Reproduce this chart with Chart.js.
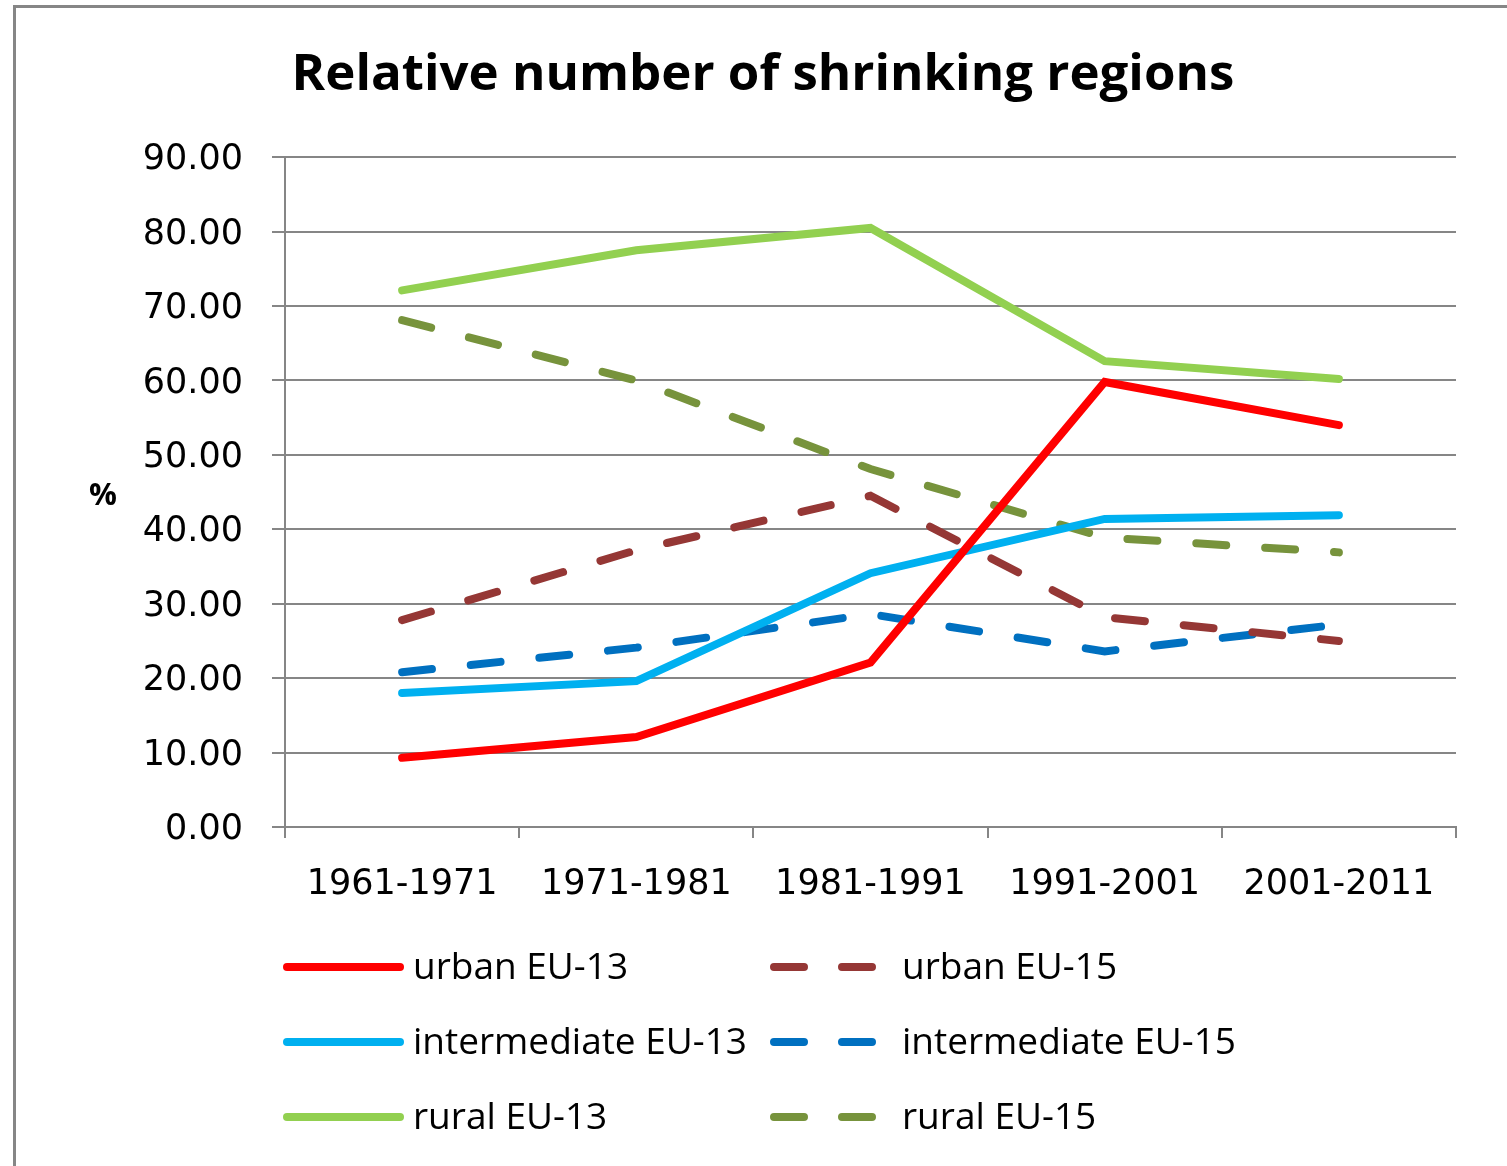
<!DOCTYPE html>
<html>
<head>
<meta charset="utf-8">
<script src="https://cdn.jsdelivr.net/npm/chart.js@4"></script>
<style>
  html, body { margin: 0; padding: 0; background: #ffffff; }
  #wrap { width: 1507px; height: 1166px; }
</style>
</head>
<body>
<div id="wrap"><canvas id="myLineChart" width="1507" height="1166"></canvas></div>
<script>
const periods = ["1961-1971", "1971-1981", "1981-1991", "1991-2001", "2001-2011"];
const yTicks = [0, 10, 20, 30, 40, 50, 60, 70, 80, 90];

const urbanEU13 = [9.3, 12.1, 22.1, 59.8, 54.0];
const intermediateEU13 = [18.0, 19.6, 34.1, 41.4, 41.9];
const ruralEU13 = [72.1, 77.5, 80.5, 62.6, 60.2];
const urbanEU15 = [27.8, 37.2, 44.5, 28.2, 25.0];
const intermediateEU15 = [20.8, 24.1, 28.6, 23.6, 27.2];
const ruralEU15 = [68.1, 60.0, 48.1, 38.9, 36.9];

const gridColor = "#868686";
const dash = [30, 39];

// frame round the whole chart and the horizontal "%" label
const framePlugin = {
  id: "frame",
  beforeDraw(chart) {
    const c = chart.ctx;
    c.save();
    c.fillStyle = "#ffffff";
    c.fillRect(0, 0, chart.width, chart.height);
    c.strokeStyle = gridColor;
    c.lineWidth = 3;
    c.strokeRect(14.5, 6.5, chart.width + 20, chart.height + 20);
    c.restore();
  },
  afterDraw(chart) {
    const c = chart.ctx;
    c.save();
    c.fillStyle = "#000000";
    c.font = "bold 31px 'Open Sans'";
    c.textAlign = "center";
    c.textBaseline = "middle";
    c.fillText("%", 103, 496);
    c.restore();
  },
};

// two-column legend below the chart
const legendPlugin = {
  id: "gridLegend",
  afterDraw(chart) {
    const c = chart.ctx;
    const cols = [{ x: 287, textX: 413 }, { x: 774, textX: 902 }];
    const rows = [967, 1042, 1117];
    c.save();
    chart.data.datasets.forEach((ds, i) => {
      const col = cols[i < 3 ? 0 : 1];
      const y = rows[i % 3];
      c.strokeStyle = ds.borderColor;
      c.lineWidth = 8;
      c.lineCap = "round";
      c.beginPath();
      if (ds.borderDash) {
        c.moveTo(col.x, y);
        c.lineTo(col.x + 30, y);
        c.moveTo(col.x + 68, y);
        c.lineTo(col.x + 98, y);
      } else {
        c.moveTo(col.x, y);
        c.lineTo(col.x + 113, y);
      }
      c.stroke();
      c.fillStyle = "#000000";
      c.font = "37px 'Open Sans'";
      c.textAlign = "left";
      c.textBaseline = "middle";
      c.fillText(ds.label, col.textX, y + 1);
    });
    c.restore();
  },
};

function series(label, data, color, dashed) {
  return {
    label: label,
    data: data,
    fill: false,
    borderColor: color,
    backgroundColor: color,
    borderWidth: 8,
    borderCapStyle: "round",
    borderJoinStyle: "miter",
    borderDash: dashed ? dash : undefined,
    pointRadius: 0,
    tension: 0,
  };
}

const ctx = document.getElementById("myLineChart").getContext("2d");
const myLineChart = new Chart(ctx, {
  type: "line",
  data: {
    labels: periods,
    datasets: [
      series("urban EU-13", urbanEU13, "#FF0000", false),
      series("intermediate EU-13", intermediateEU13, "#00B0F0", false),
      series("rural EU-13", ruralEU13, "#92D050", false),
      series("urban EU-15", urbanEU15, "#953735", true),
      series("intermediate EU-15", intermediateEU15, "#0070C0", true),
      series("rural EU-15", ruralEU15, "#77933C", true),
    ],
  },
  plugins: [framePlugin, legendPlugin],
  options: {
    responsive: false,
    maintainAspectRatio: false,
    animation: false,
    layout: {
      padding: { left: 70, right: 51, top: 0, bottom: 259 },
    },
    scales: {
      x: {
        offset: true,
        afterFit(scale) {
          scale.height = 80;
        },
        grid: {
          offset: true,
          drawOnChartArea: false,
          drawTicks: true,
          tickLength: 11,
          color: gridColor,
          lineWidth: 2,
        },
        border: { color: gridColor, width: 2 },
        ticks: {
          color: "#000000",
          padding: 26,
          maxRotation: 0,
          font: { family: "DejaVu Sans", size: 35 },
        },
      },
      y: {
        min: 0,
        max: 90,
        afterFit(scale) {
          scale.width = 215;
        },
        afterBuildTicks(scale) {
          scale.ticks = yTicks.map((v) => ({ value: v }));
        },
        grid: {
          color: gridColor,
          lineWidth: 2,
          tickLength: 13,
        },
        border: { color: gridColor, width: 2 },
        ticks: {
          color: "#000000",
          padding: 29,
          labelOffset: 3,
          font: { family: "DejaVu Sans", size: 35 },
          callback: function (value) {
            return Number(value).toFixed(2);
          },
        },
      },
    },
    plugins: {
      legend: { display: false },
      tooltip: { enabled: false },
      title: {
        display: true,
        text: "Relative number of shrinking regions",
        color: "#000000",
        font: { family: "Open Sans", size: 51, weight: "bold", lineHeight: 1.2 },
        padding: { top: 45, bottom: 51 },
      },
    },
  },
});
</script>
</body>
</html>
